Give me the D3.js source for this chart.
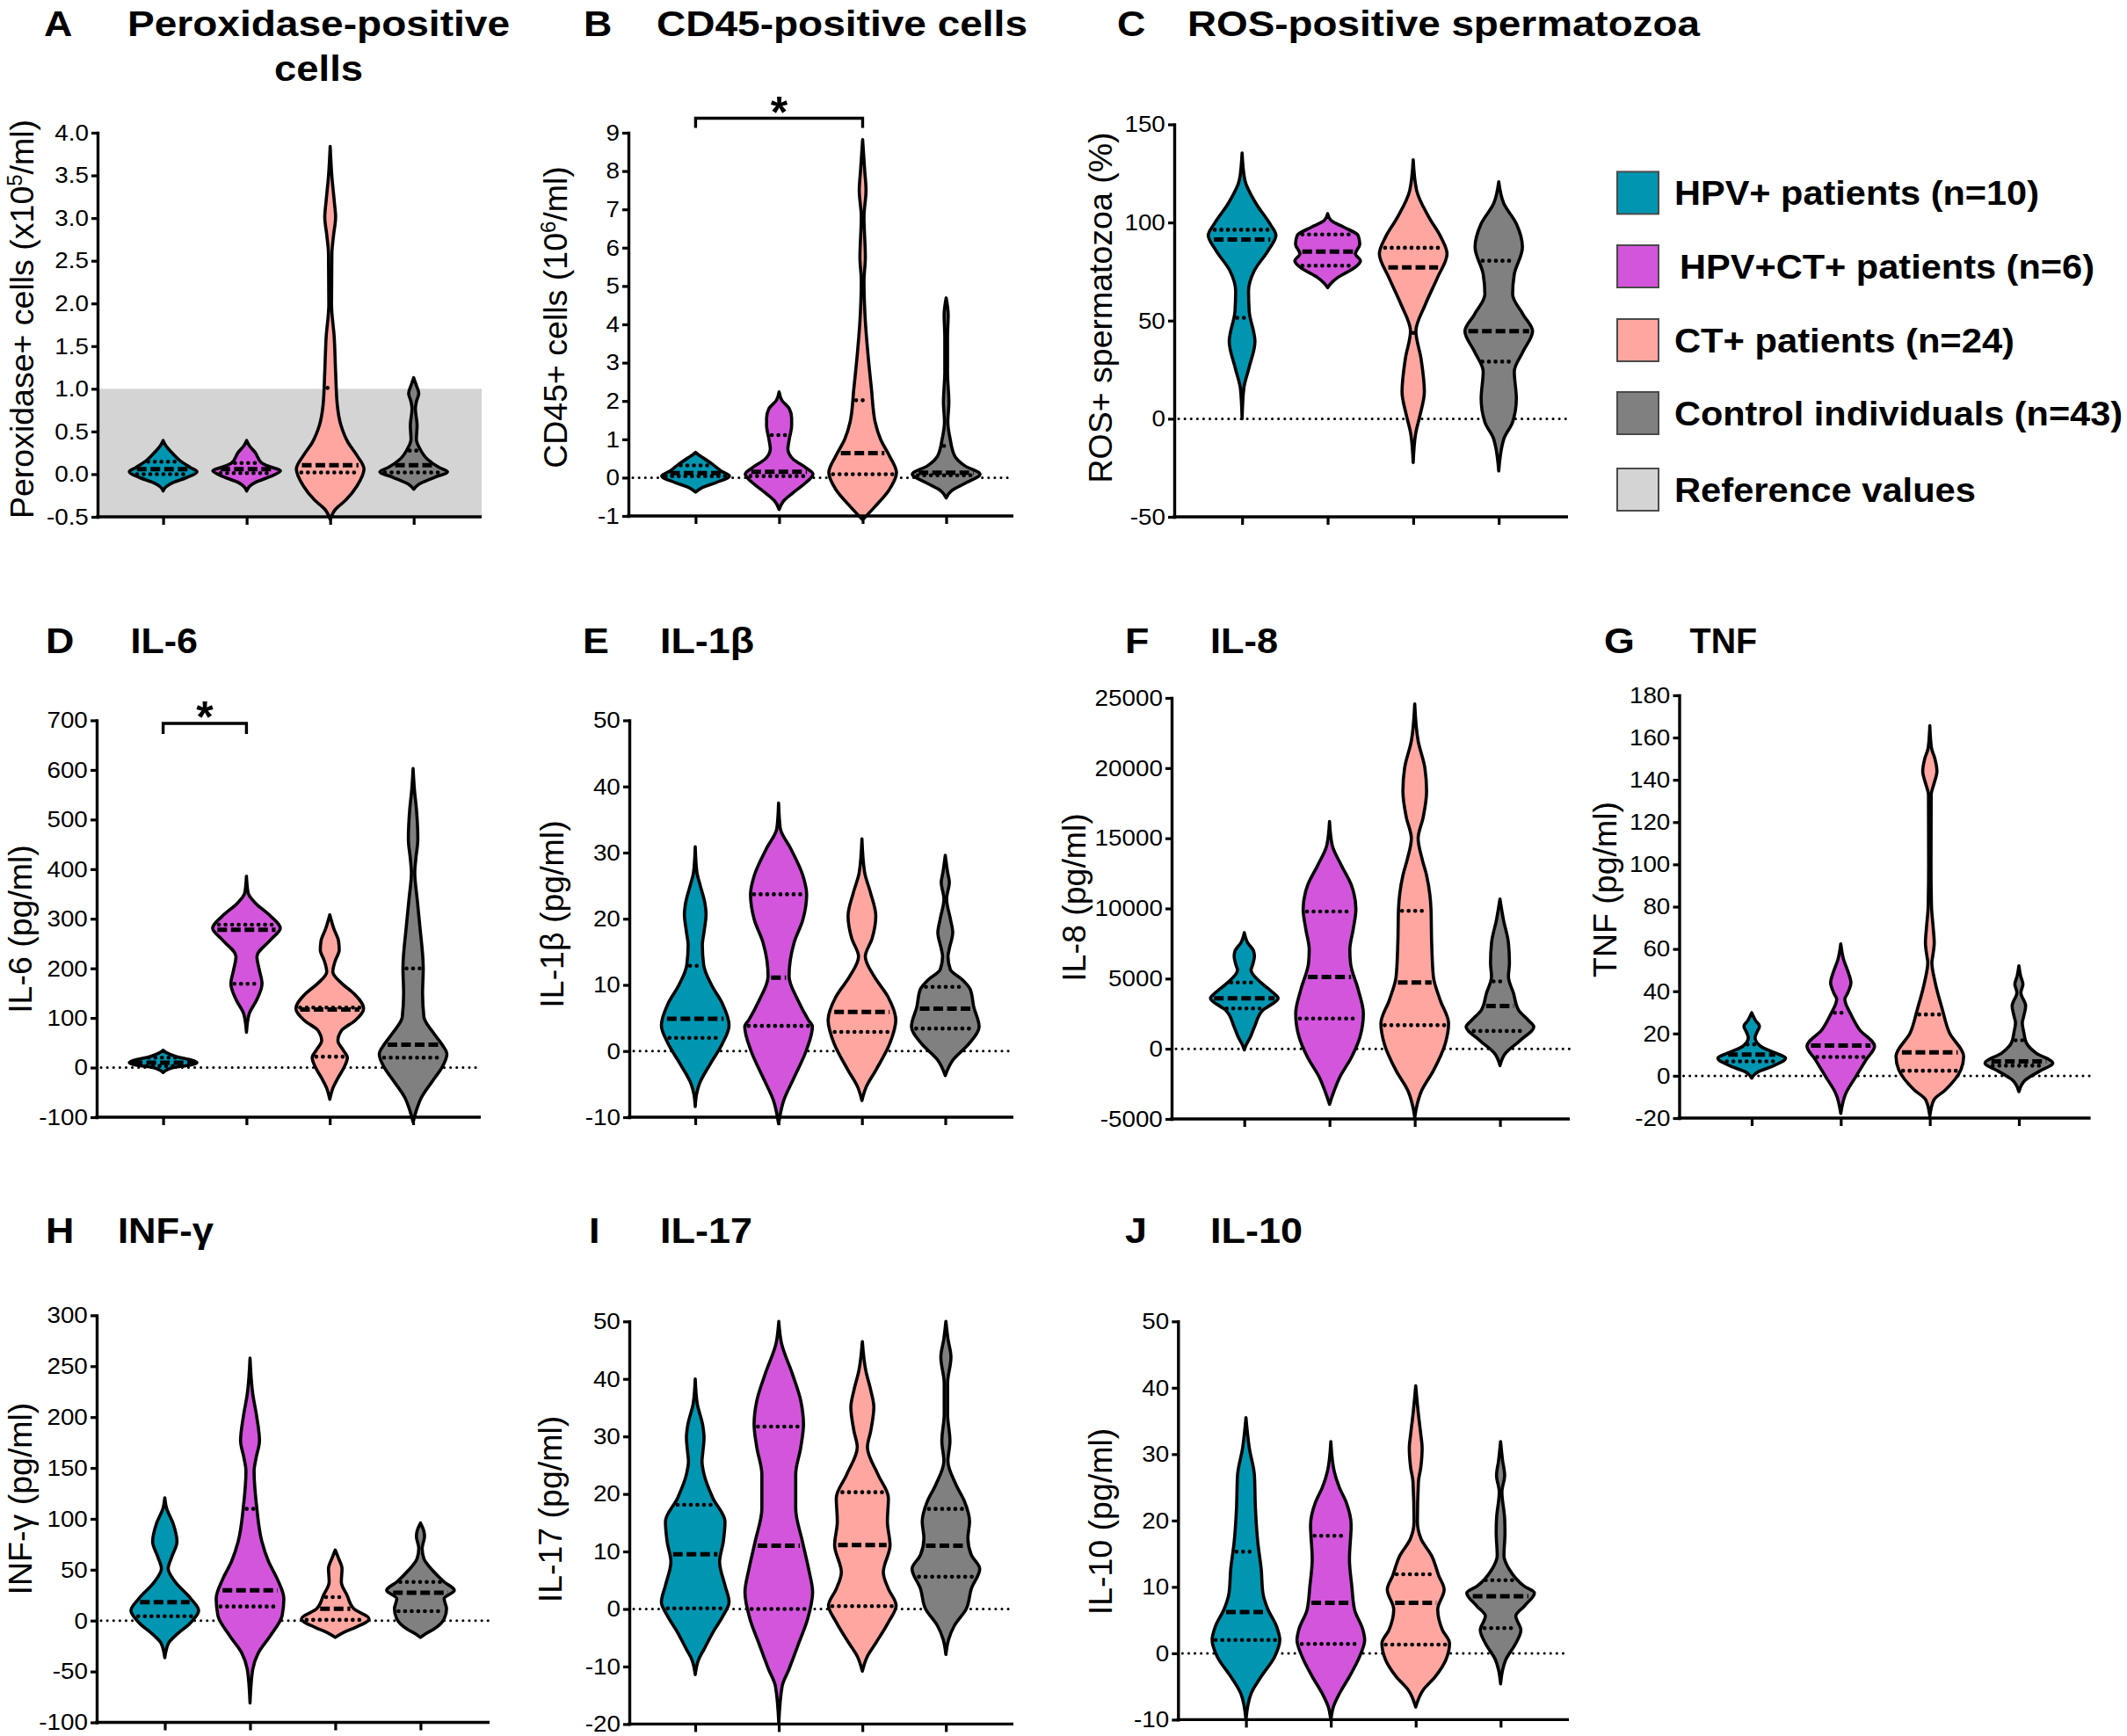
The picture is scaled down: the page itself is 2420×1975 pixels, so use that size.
<!DOCTYPE html>
<html>
<head>
<meta charset="utf-8">
<script src="https://cdn.jsdelivr.net/npm/d3@7"></script>
<style>
  body { margin: 0; background: #fff; }
  svg { display: block; }
  text { font-family: "Liberation Sans", Arial, Helvetica, sans-serif; fill: #000; }
</style>
</head>
<body>
<svg id="mainsvg" width="2420" height="1975"></svg>
<script>
// groups (same order in every panel)
var groupNames = ["HPV+ patients (n=10)", "HPV+CT+ patients (n=6)", "CT+ patients (n=24)", "Control individuals (n=43)"];
var legendLabels = groupNames.concat(["Reference values"]);
var groupColors = ["#0096b1", "#d255dc", "#ffa6a0", "#808080"];
var refColor = "#d4d4d4";

// violin outlines: [value, relative density (0..1)]
// quartiles: [q1, median, q3] (null = not visible)

// A  Peroxidase-positive cells
var peroxTicks = [-0.5, 0, 0.5, 1, 1.5, 2, 2.5, 3, 3.5, 4];
var peroxReference = [-0.5, 1.0];
var peroxViolins = [
  [[0.394,0],[0.335,0.08],[0.256,0.25],[0.158,0.5],[0.079,0.8],[0.028,1],[-0.039,0.7],[-0.098,0.3],[-0.15,0.08],[-0.197,0]],
  [[0.394,0],[0.335,0.08],[0.256,0.25],[0.13,0.45],[0.079,0.75],[0.04,1],[-0.028,0.7],[-0.098,0.25],[-0.15,0.07],[-0.197,0]],
  [[3.84,0],[3.49,0.05],[3.2,0.12],[3.01,0.16],[2.8,0.1],[2.58,0.05],[1.99,0.04],[1.6,0.12],[1.2,0.16],[0.81,0.21],[0.57,0.32],[0.37,0.53],[0.22,0.79],[0.06,1],[-0.14,0.79],[-0.3,0.47],[-0.41,0.16],[-0.53,0]],
  [[1.13,0],[1.05,0.07],[0.946,0.15],[0.85,0.08],[0.768,0.05],[0.57,0.1],[0.41,0.08],[0.3,0.18],[0.177,0.4],[0.079,0.75],[0.028,1],[-0.04,0.6],[-0.12,0.15],[-0.177,0]]
];
var peroxQuartiles = [[0.0, 0.059, 0.146], [0.012, 0.059, 0.13], [0.02, 0.106, 1.01], [0.02, 0.106, 0.276]];

// B  CD45-positive cells
var cd45Ticks = [-1, 0, 1, 2, 3, 4, 5, 6, 7, 8, 9];
var cd45Violins = [
  [[0.66,0],[0.6,0.08],[0.53,0.2],[0.35,0.5],[0.175,0.75],[0.044,1],[-0.13,0.6],[-0.26,0.2],[-0.38,0]],
  [[2.24,0],[2.02,0.08],[1.8,0.3],[1.55,0.37],[1.36,0.37],[1.0,0.3],[0.75,0.26],[0.48,0.42],[0.26,0.79],[0.09,1],[-0.13,0.79],[-0.39,0.42],[-0.61,0.13],[-0.83,0]],
  [[8.82,0],[8.03,0.06],[7.5,0.1],[6.8,0.04],[5.75,0.08],[5.13,0.04],[4.08,0.08],[3.2,0.16],[2.32,0.26],[1.45,0.37],[1.0,0.53],[0.57,0.79],[0.13,1],[-0.31,0.79],[-0.75,0.37],[-1.1,0]],
  [[4.69,0],[4.25,0.06],[3.64,0.04],[2.76,0.04],[1.97,0.08],[1.45,0.05],[1.0,0.12],[0.57,0.25],[0.31,0.55],[0.09,1],[-0.13,0.6],[-0.35,0.15],[-0.53,0]]
];
var cd45Quartiles = [[0.04, 0.12, 0.32], [0.04, 0.15, 1.11], [0.09, 0.64, 2.02], [0.06, 0.13, 0.83]];
var cd45Significance = [0, 2];

// C  ROS-positive spermatozoa
var rosTicks = [-50, 0, 50, 100, 150];
var rosViolins = [
  [[135.4,0],[121.7,0.08],[109.7,0.41],[99.4,0.82],[93.4,1],[85.7,0.77],[75.4,0.36],[65.1,0.19],[54.8,0.21],[39.4,0.38],[25.7,0.2],[15.4,0.05],[0,0]],
  [[104.5,0],[101.1,0.1],[97.7,0.47],[93.4,0.9],[89,0.95],[84,0.82],[80.5,0.97],[77,0.8],[72,0.3],[69,0.1],[66.8,0]],
  [[132,0],[116.5,0.1],[102.8,0.46],[92.5,0.82],[84,1],[72,0.72],[58.3,0.36],[44.6,0.08],[30.8,0.23],[13.7,0.33],[1.7,0.2],[-6.9,0.08],[-22.3,0]],
  [[120.8,0],[109.7,0.15],[99.4,0.52],[87.4,0.7],[73.7,0.46],[63.4,0.41],[53.1,0.72],[44.6,1],[34.3,0.72],[24,0.46],[10.3,0.52],[-1.7,0.41],[-10.3,0.15],[-26.6,0]]
];
var rosQuartiles = [[51.4, 91.3, 96.3], [78, 85.2, 93.9], [43.7, 77.1, 87.1], [29.1, 44.6, 80.5]];

// D  IL-6
var il6Ticks = [-100, 0, 100, 200, 300, 400, 500, 600, 700];
var il6Violins = [
  [[35,0],[30,0.1],[22,0.4],[15,0.85],[10,1],[5,0.8],[0,0.3],[-10,0]],
  [[386,0],[352,0.05],[332,0.26],[305,0.72],[281,1],[258,0.72],[224,0.31],[197,0.38],[169,0.46],[136,0.3],[108,0.08],[71,0]],
  [[308,0],[280,0.12],[255,0.26],[237,0.28],[215,0.16],[193,0.09],[170,0.35],[150,0.7],[119,1],[95,0.75],[75,0.35],[54,0.24],[35,0.4],[20,0.52],[0,0.42],[-20,0.25],[-40,0.1],[-64,0]],
  [[603,0],[560,0.04],[520,0.1],[461,0.14],[420,0.08],[393,0.05],[340,0.12],[285,0.2],[200,0.3],[150,0.28],[102,0.32],[70,0.6],[47,0.85],[27,1],[0,0.85],[-20,0.65],[-61,0.24],[-90,0.08],[-110,0]]
];
var il6Quartiles = [[3, 10, 20], [169, 278, 288], [22, 117, 121], [20, 46, 200]];
var il6Significance = [0, 1];

// E  IL-1beta
var il1bTicks = [-10, 0, 10, 20, 30, 40, 50];
var il1bViolins = [
  [[30.9,0],[27,0.05],[25,0.15],[22.5,0.28],[20.7,0.32],[18,0.26],[16,0.21],[13,0.25],[10,0.48],[7.2,0.8],[3.9,1],[1.1,0.8],[-1.9,0.45],[-5,0.12],[-6.5,0.04],[-8.4,0]],
  [[37.5,0],[33.7,0.05],[30.6,0.36],[26.5,0.72],[23.7,0.83],[19.9,0.72],[16.4,0.46],[11.3,0.31],[7.7,0.57],[4.7,0.88],[3.7,1],[0.1,0.82],[-4,0.46],[-7.5,0.15],[-11,0]],
  [[32.1,0],[27,0.08],[24,0.25],[20.4,0.41],[17,0.3],[14.3,0.1],[11.3,0.36],[8.2,0.77],[4.7,1],[1.1,0.82],[-2.9,0.41],[-5.5,0.12],[-7.5,0]],
  [[29.6,0],[27,0.07],[25.5,0.12],[23,0.04],[20,0.15],[17.9,0.22],[15.5,0.12],[14.3,0.08],[12.3,0.15],[10.8,0.5],[9.3,0.74],[6.7,0.84],[3.7,1],[1.1,0.7],[-1.4,0.22],[-3.7,0]]
];
var il1bQuartiles = [[2.0, 4.9, 12.9], [3.8, 11.1, 23.7], [2.9, 5.9, null], [3.4, 6.4, 9.7]];

// F  IL-8
var il8Ticks = [-5000, 0, 5000, 10000, 15000, 20000, 25000];
var il8Violins = [
  [[8270,0],[7550,0.1],[7000,0.27],[6600,0.3],[6000,0.25],[5600,0.2],[4700,0.5],[4000,0.85],[3600,1],[3000,0.7],[2750,0.55],[1560,0.3],[840,0.18],[300,0.06],[-70,0]],
  [[16190,0],[14500,0.08],[13070,0.35],[11630,0.65],[9950,0.78],[8510,0.7],[7070,0.6],[6110,0.62],[4200,0.85],[2520,1],[840,0.9],[-600,0.65],[-2040,0.3],[-3240,0.1],[-3960,0]],
  [[24580,0],[21940,0.1],[20000,0.3],[18350,0.35],[16500,0.25],[14990,0.1],[13500,0.22],[12350,0.35],[9950,0.48],[7550,0.5],[5150,0.55],[3480,0.75],[1800,1],[360,0.9],[-1560,0.55],[-3000,0.2],[-4200,0.05],[-4920,0]],
  [[10670,0],[9230,0.1],[7550,0.25],[6110,0.28],[5150,0.25],[3960,0.4],[2760,0.55],[2000,0.85],[1560,1],[600,0.6],[-360,0.15],[-1200,0]]
];
var il8Quartiles = [[2878, 3597, 4724], [2158, 5108, 9780], [1680, 4720, 9830], [1270, 3050, 4800]];

// G  TNF
var tnfTicks = [-20, 0, 20, 40, 60, 80, 100, 120, 140, 160, 180];
var tnfViolins = [
  [[29.8,0],[26,0.12],[23.5,0.23],[20.5,0.15],[18,0.1],[14,0.26],[10.8,0.7],[8.4,1],[4.4,0.6],[2,0.2],[-1.1,0]],
  [[62.4,0],[55.2,0.08],[49,0.22],[44,0.3],[39,0.2],[36.2,0.12],[29,0.3],[21.9,0.55],[14,1],[7.6,0.75],[-0.3,0.45],[-8.3,0.15],[-17.8,0]],
  [[165.6,0],[155,0.05],[150,0.15],[144,0.21],[138,0.12],[133,0.04],[100,0.035],[80,0.05],[70,0.1],[63,0.13],[56,0.08],[53.7,0.06],[44,0.16],[31.4,0.37],[20.3,0.58],[9.2,1],[2.9,0.92],[-6.7,0.46],[-11.4,0.12],[-19,0]],
  [[52,0],[47.3,0.05],[43.3,0.12],[39.4,0.06],[33,0.2],[28,0.14],[25,0.1],[21,0.14],[15.6,0.22],[10.8,0.5],[6,1],[2.1,0.6],[-1.9,0.2],[-7.5,0]]
];
var tnfQuartiles = [[6.8, 10, 14.8], [8.9, 14.3, 29.8], [2.4, 11.1, 29], [4.8, 6.8, 16.8]];

// H  INF-gamma
var infgTicks = [-100, -50, 0, 50, 100, 150, 200, 250, 300];
var infgViolins = [
  [[120.7,0],[110.7,0.05],[95,0.25],[77.7,0.36],[62,0.2],[51.2,0.1],[38,0.31],[21.5,0.77],[9.9,1],[-1.7,0.77],[-14.9,0.31],[-21.5,0.12],[-36.4,0]],
  [[257.9,0],[223,0.08],[200,0.2],[176.9,0.28],[160,0.18],[147,0.12],[110.7,0.2],[77.7,0.35],[57.9,0.55],[41.3,0.8],[21.5,1],[5,0.95],[-14.9,0.6],[-31.4,0.25],[-48,0.08],[-81,0]],
  [[69.4,0],[61,0.1],[51.2,0.2],[38,0.18],[24.8,0.35],[11.6,0.55],[1.7,1],[-6.6,0.6],[-11.6,0.25],[-16.5,0]],
  [[95.9,0],[88,0.1],[82.6,0.12],[71,0.05],[61,0.1],[49.6,0.35],[38,0.7],[29.8,1],[21.5,0.7],[11.6,0.77],[1.7,0.7],[-8.3,0.4],[-13,0.15],[-16.5,0]]
];
var infgQuartiles = [[4.3, 18.2, null], [13.9, 29.8, 109.8], [0.7, 11.6, 23.1], [9.3, 27.4, 38]];

// I  IL-17
var il17Ticks = [-20, -10, 0, 10, 20, 30, 40, 50];
var il17Violins = [
  [[40,0],[35.7,0.06],[32,0.22],[29.8,0.26],[27,0.22],[25.7,0.2],[23.4,0.26],[19.3,0.52],[15.2,0.88],[11.7,0.83],[8.2,0.72],[4.1,0.88],[1.2,1],[-1.2,0.82],[-4.1,0.52],[-7,0.26],[-8.8,0.1],[-11.4,0]],
  [[50,0],[46.2,0.08],[40.9,0.4],[36.2,0.65],[32.1,0.73],[28.1,0.65],[23.4,0.5],[17.5,0.5],[11.7,0.7],[7,0.88],[2.9,1],[-1.8,0.85],[-5.8,0.6],[-10.5,0.3],[-13.4,0.1],[-19.9,0]],
  [[46.5,0],[41.5,0.1],[38,0.25],[35.1,0.34],[31,0.25],[28.1,0.15],[23.4,0.46],[19.3,0.77],[15.2,0.74],[11.1,0.82],[6.4,0.62],[3.5,0.77],[0.6,1],[-2.3,0.77],[-5.8,0.41],[-8.2,0.15],[-10.8,0]],
  [[50,0],[47,0.06],[43.8,0.15],[39.2,0.05],[33.9,0.05],[29.2,0.12],[25.7,0.06],[21.6,0.3],[18.7,0.55],[15.2,0.7],[12.3,0.65],[9.4,0.75],[7,1],[3.5,0.75],[0,0.6],[-2.9,0.25],[-5.3,0.08],[-7.9,0]]
];
var il17Quartiles = [[0.1, 9.5, 18.1], [0, 11, 31.7], [0.5, 11.1, 20.3], [5.6, 11, 17.4]];

// J  IL-10
var il10Ticks = [-10, 0, 10, 20, 30, 40, 50];
var il10Violins = [
  [[35.5,0],[30.9,0.1],[26.8,0.25],[21.8,0.28],[16.7,0.35],[12.7,0.45],[9.1,0.5],[6.6,0.65],[4.1,0.9],[2,1],[-0.5,0.85],[-3.5,0.45],[-6.1,0.15],[-10,0]],
  [[31.9,0],[27.4,0.1],[25,0.25],[22.8,0.45],[19.3,0.6],[14.2,0.55],[10.1,0.62],[6.6,0.7],[3.5,0.95],[2,1],[-0.5,0.85],[-3.5,0.55],[-6.1,0.25],[-8,0.08],[-10.1,0]],
  [[40.3,0],[36,0.08],[33,0.15],[30.9,0.19],[28,0.15],[25.8,0.08],[19.8,0.05],[17.2,0.16],[14.7,0.47],[11.7,0.68],[9.6,0.84],[6.6,0.65],[3.5,0.79],[1.5,1],[-1,0.89],[-3.5,0.58],[-5.6,0.21],[-8.1,0]],
  [[31.9,0],[29,0.06],[26.8,0.12],[24.3,0.04],[20.3,0.12],[18.2,0.13],[14.7,0.1],[12.7,0.25],[10.1,0.7],[9.1,1],[7.1,0.7],[5.6,0.45],[3.5,0.6],[1.5,0.45],[-1,0.15],[-2.5,0.06],[-4.6,0]]
];
var il10Quartiles = [[2, 6.2, 15.3], [1.4, 7.6, 17.7], [1.3, 7.6, 11.9], [3.8, 8.6, 11]];

// panel definitions (layout in page pixels)
var panels = [
  { letter: "A", title: ["Peroxidase-positive", "cells"], label: [["Peroxidase+ cells (x10", 0], ["5", 1], ["/ml)", 0]],
    ticks: peroxTicks, violins: peroxViolins, quartiles: peroxQuartiles, reference: peroxReference, zero: false, fmt: 1,
    ax: 111, xe: 548, yt: 151, yb: 588, c0: 185.6, c3: 470.7, lx: 25, ly: 363,
    letterX: 50, titleX: [145, 312], titleW: [435, 101], titleY: [41, 92] },
  { letter: "B", title: ["CD45-positive cells"], label: [["CD45+ cells (10", 0], ["6", 1], ["/ml)", 0]],
    ticks: cd45Ticks, violins: cd45Violins, quartiles: cd45Quartiles, sig: cd45Significance, zero: true,
    ax: 715, xe: 1153, yt: 151, yb: 587, c0: 791.4, c3: 1076.5, lx: 632, ly: 361, sigY: 134.5, sigDrop: 11, starTop: 109,
    letterX: 664, titleX: [747], titleW: [422], titleY: [41] },
  { letter: "C", title: ["ROS-positive spermatozoa"], label: [["ROS+ spermatozoa (%)", 0]],
    ticks: rosTicks, violins: rosViolins, quartiles: rosQuartiles, zero: true,
    ax: 1336, xe: 1784, yt: 141.5, yb: 588, c0: 1413.2, c3: 1705.2, lx: 1252, ly: 350,
    letterX: 1271, titleX: [1351], titleW: [583], titleY: [41] },
  { letter: "D", title: ["IL-6"], label: [["IL-6 (pg/ml)", 0]],
    ticks: il6Ticks, violins: il6Violins, quartiles: il6Quartiles, sig: il6Significance, zero: true,
    ax: 110, xe: 547, yt: 819.5, yb: 1271, c0: 185.6, c3: 470, lx: 23, ly: 1057, sigY: 823, sigDrop: 12, starTop: 797,
    letterX: 52, titleX: [148.5], titleW: [76.5], titleY: [743] },
  { letter: "E", title: ["IL-1β"], label: [["IL-1β (pg/ml)", 0]],
    ticks: il1bTicks, violins: il1bViolins, quartiles: il1bQuartiles, zero: true,
    ax: 716, xe: 1153, yt: 819.5, yb: 1271, c0: 791, c3: 1075.5, lx: 628, ly: 1040,
    letterX: 663, titleX: [751], titleW: [107], titleY: [743] },
  { letter: "F", title: ["IL-8"], label: [["IL-8 (pg/ml)", 0]],
    ticks: il8Ticks, violins: il8Violins, quartiles: il8Quartiles, zero: true,
    ax: 1333, xe: 1786, yt: 794, yb: 1273, c0: 1415.7, c3: 1706.6, lx: 1222, ly: 1021,
    letterX: 1280, titleX: [1377], titleW: [77], titleY: [743] },
  { letter: "G", title: ["TNF"], label: [["TNF (pg/ml)", 0]],
    ticks: tnfTicks, violins: tnfViolins, quartiles: tnfQuartiles, zero: true,
    ax: 1910.5, xe: 2378.6, yt: 791, yb: 1272, c0: 1993, c3: 2297, lx: 1826, ly: 1012,
    letterX: 1825, titleX: [1922.6], titleW: [76.5], titleY: [743] },
  { letter: "H", title: ["INF-γ"], label: [["INF-γ (pg/ml)", 0]],
    ticks: infgTicks, violins: infgViolins, quartiles: infgQuartiles, zero: true,
    ax: 110, xe: 557, yt: 1496.4, yb: 1959.5, c0: 187.5, c3: 478.4, lx: 23, ly: 1705,
    letterX: 52, titleX: [134], titleW: [109], titleY: [1414] },
  { letter: "I", title: ["IL-17"], label: [["IL-17 (pg/ml)", 0]],
    ticks: il17Ticks, violins: il17Violins, quartiles: il17Quartiles, zero: true,
    ax: 716, xe: 1153, yt: 1503.3, yb: 1961.4, c0: 791, c3: 1076.2, lx: 626, ly: 1717,
    letterX: 670, titleX: [751], titleW: [105], titleY: [1414] },
  { letter: "J", title: ["IL-10"], label: [["IL-10 (pg/ml)", 0]],
    ticks: il10Ticks, violins: il10Violins, quartiles: il10Quartiles, zero: true,
    ax: 1340.3, xe: 1785, yt: 1503.3, yb: 1956.4, c0: 1417.6, c3: 1707.3, lx: 1252, ly: 1731,
    letterX: 1280, titleX: [1377], titleW: [105], titleY: [1414] }
];

var svg = d3.select("#mainsvg");
var HALF = 38.5;       // max violin half width
var TICK_SX = 1.07;    // tick labels are a little wide in the figure
var LETTER_SX = 1.12;

function drawPanel(p) {
  var g = svg.append("g").attr("class", "panel" + p.letter);
  var y = d3.scaleLinear().domain(d3.extent(p.ticks)).range([p.yb, p.yt]);
  var x = d3.scalePoint().domain(groupNames).range([p.c0, p.c3]);
  var w = d3.scaleLinear().domain([0, 1]).range([0, HALF]);

  if (p.reference) {
    g.append("rect")
      .attr("x", p.ax).attr("y", y(p.reference[1]))
      .attr("width", p.xe - p.ax).attr("height", y(p.reference[0]) - y(p.reference[1]))
      .attr("fill", refColor);
  }
  if (p.zero) {
    g.append("line")
      .attr("x1", p.ax + 5).attr("x2", p.xe).attr("y1", y(0)).attr("y2", y(0))
      .attr("stroke", "#000").attr("stroke-width", 3)
      .attr("stroke-dasharray", "0.1 7").attr("stroke-linecap", "round");
  }

  p.violins.forEach(function (prof, i) {
    var cx = x(groupNames[i]);
    var area = d3.area()
      .curve(d3.curveMonotoneY)
      .y(function (d) { return y(d[0]); })
      .x0(function (d) { return cx - w(d[1]); })
      .x1(function (d) { return cx + w(d[1]); });
    g.append("path")
      .attr("d", area(prof))
      .attr("fill", groupColors[i])
      .attr("stroke", "#000")
      .attr("stroke-width", 3.6)
      .attr("stroke-linejoin", "round");

    // quartile / median lines span the violin at that value
    var hw = d3.scaleLinear().domain(prof.map(function (d) { return d[0]; }))
      .range(prof.map(function (d) { return d[1]; })).clamp(true);
    p.quartiles[i].forEach(function (q, k) {
      if (q == null) return;
      var half = Math.max(w(hw(q)) - 4, 0);
      var ln = g.append("line")
        .attr("x1", cx - half).attr("x2", cx + half)
        .attr("y1", y(q)).attr("y2", y(q))
        .attr("stroke", "#000");
      if (k == 1) {
        ln.attr("stroke-width", 5).attr("stroke-dasharray", "11 4.5");
      } else {
        ln.attr("stroke-width", 4.6).attr("stroke-dasharray", "0.1 7.4").attr("stroke-linecap", "round");
      }
    });
  });

  // y axis
  var yAxis = d3.axisLeft(y)
    .tickValues(p.ticks)
    .tickFormat(function (d) { return p.fmt ? d.toFixed(p.fmt) : String(d); })
    .tickSize(7).tickPadding(2.5).tickSizeOuter(0);
  var ya = g.append("g").attr("transform", "translate(" + p.ax + ",0)").call(yAxis);
  ya.select(".domain").attr("stroke-width", 3.4).attr("stroke-linecap", "square");
  ya.selectAll(".tick line").attr("stroke-width", 3.2);
  ya.selectAll(".tick text")
    .attr("font-size", 26)
    .attr("font-family", "Liberation Sans, Arial, sans-serif")
    .attr("transform", "scale(" + TICK_SX + ",1)");

  // x axis: line across, ticks at the groups
  var xAxis = d3.axisBottom(x).tickSize(9).tickFormat(function () { return ""; });
  var xa = g.append("g").attr("transform", "translate(0," + p.yb + ")").call(xAxis);
  xa.select(".domain").remove();
  xa.selectAll(".tick line").attr("stroke-width", 3.2);
  g.append("line")
    .attr("x1", p.ax - 1.7).attr("x2", p.xe).attr("y1", p.yb).attr("y2", p.yb)
    .attr("stroke", "#000").attr("stroke-width", 3.4);

  // axis title (rotated)
  var lab = g.append("text")
    .attr("transform", "translate(" + p.lx + "," + p.ly + ") rotate(-90)")
    .attr("text-anchor", "middle")
    .attr("dy", "0.35em")
    .attr("font-size", 37.5);
  p.label.forEach(function (s) {
    var t = lab.append("tspan").text(s[0]);
    if (s[1]) t.attr("font-size", 24).attr("baseline-shift", "super");
  });

  // panel letter and title
  g.append("text")
    .attr("transform", "translate(" + p.letterX + "," + p.titleY[0] + ") scale(" + LETTER_SX + ",1)")
    .attr("font-size", 40).attr("font-weight", "bold")
    .text(p.letter);
  p.title.forEach(function (t, k) {
    g.append("text")
      .attr("x", p.titleX[k]).attr("y", p.titleY[k])
      .attr("font-size", 40).attr("font-weight", "bold")
      .attr("textLength", p.titleW[k]).attr("lengthAdjust", "spacingAndGlyphs")
      .text(t);
  });

  // significance bracket
  if (p.sig) {
    var xa0 = x(groupNames[p.sig[0]]), xa1 = x(groupNames[p.sig[1]]);
    g.append("path")
      .attr("d", d3.line()([[xa0, p.sigY + p.sigDrop], [xa0, p.sigY], [xa1, p.sigY], [xa1, p.sigY + p.sigDrop]]))
      .attr("fill", "none").attr("stroke", "#000").attr("stroke-width", 3.4);
    g.append("text")
      .attr("x", (xa0 + xa1) / 2).attr("y", p.starTop + 36)
      .attr("text-anchor", "middle")
      .attr("font-size", 50).attr("font-weight", "bold")
      .text("*");
  }
}

panels.forEach(drawPanel);

// legend
var legendTop = [195.4, 279, 363, 446, 533];
var legendTextX = [1905, 1911, 1905, 1905, 1905];
var legendTextW = [415, 472, 387, 510, 343];
var legend = svg.append("g").attr("class", "legend");
legendLabels.forEach(function (name, i) {
  legend.append("rect")
    .attr("x", 1840).attr("y", legendTop[i])
    .attr("width", 47).attr("height", 48)
    .attr("fill", i < 4 ? groupColors[i] : refColor)
    .attr("stroke", "#4a4a4a").attr("stroke-width", 2);
  legend.append("text")
    .attr("x", legendTextX[i]).attr("y", legendTop[i] + 38)
    .attr("font-size", 39).attr("font-weight", "bold")
    .attr("textLength", legendTextW[i]).attr("lengthAdjust", "spacingAndGlyphs")
    .text(name);
});
</script>
</body>
</html>
